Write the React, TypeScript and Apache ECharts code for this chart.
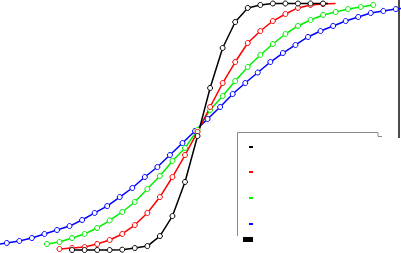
import React, { useEffect, useRef } from "react";
import * as echarts from "echarts";

// x positions (index units) and y values (-1..1)
const blackX = [-10, -9, -8, -7, -6, -5, -4, -3, -2, -1, 0, 1, 2, 3, 4, 5, 6, 7, 8, 9, 10];
const blackY = [-0.996, -0.996, -0.996, -0.996, -0.993, -0.98, -0.964, -0.883, -0.721, -0.445, -0.073, 0.316, 0.64, 0.85, 0.964, 0.988, 1.0, 1.0, 1.0, 1.0, 1.0];
const blackTail = [10.4, 1.0];

const redX = [-11, -10, -9, -8, -7, -6, -5, -4, -3, -2, -1, 0, 1, 2, 3, 4, 5, 6, 7, 8, 9, 10];
const redY = [-0.988, -0.98, -0.972, -0.947, -0.915, -0.866, -0.794, -0.696, -0.567, -0.405, -0.227, -0.04, 0.162, 0.356, 0.526, 0.68, 0.777, 0.858, 0.915, 0.964, 0.988, 0.996];
const redTail = [11, 1.0];

const greenX = [-12, -11, -10, -9, -8, -7, -6, -5, -4, -3, -2, -1, 0, 1, 2, 3, 4, 5, 6, 7, 8, 9, 10, 11, 12, 13, 14];
const greenY = [-0.947, -0.931, -0.899, -0.866, -0.818, -0.757, -0.688, -0.607, -0.502, -0.397, -0.275, -0.17, -0.024, 0.138, 0.251, 0.372, 0.486, 0.583, 0.672, 0.753, 0.818, 0.866, 0.907, 0.931, 0.955, 0.972, 0.988];

const blueX = [-15.2, -14.2, -13.2, -12.2, -11.2, -10.2, -9.2, -8.2, -7.2, -6.2, -5.2, -4.2, -3.2, -2.2, -1.2, -0.2, 0.8, 1.8, 2.8, 3.8, 4.8, 5.8, 6.8, 7.8, 8.8, 9.8, 10.8, 11.8, 12.8, 13.8, 14.8, 15.8];
const blueY = [-0.939, -0.923, -0.899, -0.866, -0.834, -0.802, -0.753, -0.696, -0.64, -0.567, -0.494, -0.405, -0.324, -0.227, -0.13, -0.032, 0.065, 0.162, 0.267, 0.356, 0.441, 0.526, 0.599, 0.664, 0.729, 0.777, 0.818, 0.858, 0.891, 0.923, 0.939, 0.955];
const blueHead = [-16.2, -0.955];
const blueTail = [16.8, 0.964];

const X_MIN = -15.74;
const X_MAX = 16.21;
const Y_MIN = -1.0202;
const Y_MAX = 1.0283;

function pts(xs: number[], ys: number[]) {
  return xs.map((x, i) => [x, ys[i]]);
}

function makeSeries(name: string, color: string, data: any[]) {
  return {
    name,
    type: "line",
    data,
    symbol: "circle",
    symbolSize: 5,
    showAllSymbol: true,
    lineStyle: { color, width: 1.5 },
    itemStyle: { color: "#ffffff", borderColor: color, borderWidth: 1 },
    emphasis: { disabled: true },
    z: 2,
  };
}

export default function App() {
  const ref = useRef<HTMLDivElement>(null);
  useEffect(() => {
    if (!ref.current) return;
    const chart = echarts.init(ref.current, undefined, { renderer: "svg" });
    const gray = "#8a8a8a";
    chart.setOption({
      animation: false,
      backgroundColor: "#ffffff",
      grid: { left: 0, right: 0, top: 0, bottom: 0 },
      xAxis: { type: "value", min: X_MIN, max: X_MAX, show: false },
      yAxis: { type: "value", min: Y_MIN, max: Y_MAX, show: false },
      series: [
        makeSeries("blue", "#0000ff", [
          { value: blueHead, symbol: "none" },
          ...pts(blueX, blueY),
          { value: blueTail, symbol: "none" },
        ]),
        makeSeries("green", "#00ee00", pts(greenX, greenY)),
        makeSeries("red", "#ff0000", [
          ...pts(redX, redY),
          { value: redTail, symbol: "none" },
        ]),
        makeSeries("black", "#000000", [
          ...pts(blackX, blackY),
          { value: blackTail, symbol: "none" },
        ]),
      ],
      graphic: [
        { type: "line", shape: { x1: 399, y1: 0, x2: 399, y2: 138 }, style: { stroke: "#111", lineWidth: 1.5 } },
        { type: "polyline", shape: { points: [[237.5, 236], [237.5, 132.5], [378, 132.5], [378, 136.5], [382, 136.5]] }, style: { stroke: gray, lineWidth: 1, fill: null } },
        { type: "rect", shape: { x: 249, y: 146, width: 4, height: 2 }, style: { fill: "#000000" } },
        { type: "rect", shape: { x: 249, y: 171, width: 4, height: 2 }, style: { fill: "#ff0000" } },
        { type: "rect", shape: { x: 249, y: 197, width: 4, height: 2 }, style: { fill: "#00ee00" } },
        { type: "rect", shape: { x: 249, y: 223, width: 4, height: 2 }, style: { fill: "#0000ff" } },
        { type: "rect", shape: { x: 243, y: 237, width: 10, height: 5 }, style: { fill: "#000000" } },
      ],
    });
    return () => chart.dispose();
  }, []);
  return (
    <div
      ref={ref}
      style={{ position: "fixed", left: 0, top: 0, width: 401, height: 253 }}
    />
  );
}
